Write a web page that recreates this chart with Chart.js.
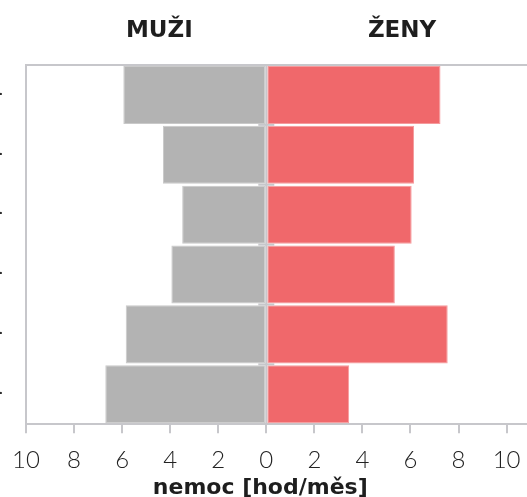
<!DOCTYPE html>
<html>
<head>
<meta charset="utf-8">
<script src="https://cdn.jsdelivr.net/npm/chart.js@4/dist/chart.umd.min.js"></script>
<style>
html,body{margin:0;padding:0;background:#fff;}
#wrap{width:527px;height:497px;position:relative;}
</style>
</head>
<body>
<div id="wrap"><canvas id="c" width="527" height="497"></canvas></div>
<script>
const categories = ['1.', '2.', '3.', '4.', '5.', '6.'];
const menValues = [5.95, 4.3, 3.5, 3.95, 5.85, 6.7];
const womenValues = [7.25, 6.15, 6.05, 5.35, 7.55, 3.45];
const tickValues = [-10, -8, -6, -4, -2, 0, 2, 4, 6, 8, 10];
const groupTitles = ['MUŽI', 'ŽENY'];
const axisTitle = 'nemoc [hod/měs]';

const gridGray = '#c7c7cb';

const overlay = {
  id: 'overlay',
  afterDatasetsDraw(chart) {
    const {ctx, chartArea, scales} = chart;
    const x = scales.x, y = scales.y;
    const x0 = x.getPixelForValue(0);
    ctx.save();
    ctx.strokeStyle = gridGray;
    ctx.lineWidth = 2;
    ctx.beginPath();
    ctx.moveTo(x0, chartArea.top);
    ctx.lineTo(x0, chartArea.bottom);
    ctx.stroke();
    for (let i = 0; i < categories.length; i++) {
      const yy = y.getPixelForValue(i - 0.5);
      ctx.beginPath();
      ctx.moveTo(x0 - 8, yy);
      ctx.lineTo(x0 + 8, yy);
      ctx.stroke();
    }
    ctx.restore();
  },
  afterDraw(chart) {
    const {ctx, scales} = chart;
    const x = scales.x;
    ctx.save();
    ctx.fillStyle = '#1e1e1e';
    ctx.font = 'bold 23px "DejaVu Sans"';
    ctx.textAlign = 'center';
    ctx.textBaseline = 'alphabetic';
    ctx.fillText(groupTitles[0], x.getPixelForValue(-4.45), 37);
    ctx.fillText(groupTitles[1], x.getPixelForValue(5.65), 37);
    ctx.font = 'bold 22px "DejaVu Sans"';
    ctx.fillText(axisTitle, x.getPixelForValue(-0.25), 494);
    ctx.restore();
  }
};

new Chart(document.getElementById('c'), {
  type: 'bar',
  data: {
    labels: categories,
    datasets: [
      {
        label: groupTitles[0],
        data: menValues.map(v => -v),
        backgroundColor: '#b3b3b3',
        borderColor: '#c9c9c9',
        borderWidth: 1,
        borderSkipped: false,
        barPercentage: 1,
        categoryPercentage: 0.97
      },
      {
        label: groupTitles[1],
        data: womenValues,
        backgroundColor: '#f0686b',
        borderColor: '#f59a9c',
        borderWidth: 1,
        borderSkipped: false,
        barPercentage: 1,
        categoryPercentage: 0.97
      }
    ]
  },
  options: {
    responsive: false,
    animation: false,
    indexAxis: 'y',
    layout: {padding: {top: 65, right: 0, bottom: 9, left: 0}},
    plugins: {legend: {display: false}, tooltip: {enabled: false}},
    scales: {
      x: {
        stacked: true,
        min: -10,
        max: 10.85,
        afterBuildTicks(scale) { scale.ticks = tickValues.map(v => ({value: v})); },
        afterFit(scale) { scale.paddingRight = 0; scale.paddingLeft = 0; },
        ticks: {
          callback: v => Math.abs(v),
          color: '#222',
          font: {family: 'Lato', size: 24, weight: '300'},
          padding: 13,
          maxRotation: 0,
          autoSkip: false
        },
        grid: {
          drawOnChartArea: false,
          tickLength: 9,
          tickColor: gridGray,
          lineWidth: 2,
          color: gridGray
        },
        border: {display: true, color: gridGray, width: 2},
        title: {display: false}
      },
      y: {
        stacked: true,
        afterFit(scale) { scale.width = 26; scale.paddingTop = 0; scale.paddingBottom = 0; },
        ticks: {
          color: '#222',
          font: {family: 'Lato', size: 18},
          padding: 23,
          labelOffset: -6
        },
        grid: {
          offset: true,
          tickLength: 0,
          lineWidth: 2,
          color: ctx => ctx.index === 0 ? gridGray : 'rgba(0,0,0,0)'
        },
        border: {display: true, color: gridGray, width: 2}
      }
    }
  },
  plugins: [overlay]
});
</script>
</body>
</html>
